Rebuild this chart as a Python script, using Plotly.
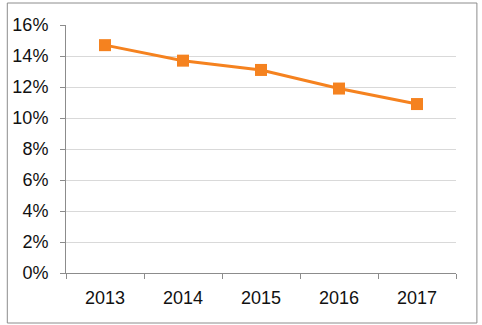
import plotly.graph_objects as go

years = ["2013", "2014", "2015", "2016", "2017"]
values = [14.7, 13.7, 13.1, 11.9, 10.9]
y_ticks = [0, 2, 4, 6, 8, 10, 12, 14, 16]
y_labels = [f"{v}%" for v in y_ticks]

W, H = 482, 325
L, R, T, B = 64, 26, 25, 52
pw, ph = W - L - R, H - T - B

fig = go.Figure()
fig.add_trace(go.Scatter(
    x=years, y=values, mode="lines+markers",
    line=dict(color="#F5821F", width=3),
    marker=dict(symbol="square", size=12, color="#F5821F"),
))

def px_x(x):
    return (x - L) / pw

def px_y(y):
    return (H - B - y) / ph

fig.add_shape(type="rect", xref="paper", yref="paper",
              x0=px_x(5), x1=px_x(477), y0=px_y(323), y1=px_y(3),
              line=dict(color="#8c8c8c", width=1), fillcolor="rgba(0,0,0,0)")

fig.update_layout(
    width=W, height=H,
    margin=dict(l=L, r=R, t=T, b=B),
    paper_bgcolor="white", plot_bgcolor="white",
    showlegend=False,
    font=dict(family="Liberation Sans, Arial, sans-serif", size=18, color="#111111"),
    xaxis=dict(
        type="category", range=[-0.5, 4.5], tickson="boundaries",
        ticks="outside", ticklen=5, tickcolor="#8c8c8c",
        showline=True, linecolor="#8c8c8c", linewidth=1,
        showgrid=False, tickfont=dict(size=18), ticklabelstandoff=8,
    ),
    yaxis=dict(
        range=[0, 16], tickvals=y_ticks, ticktext=y_labels,
        ticks="outside", ticklen=5, tickcolor="#8c8c8c",
        showline=True, linecolor="#8c8c8c", linewidth=1,
        showgrid=True, gridcolor="#d9d9d9", gridwidth=1,
        zeroline=False, tickfont=dict(size=18), ticklabelstandoff=8,
    ),
)

fig.write_html("out.html")
